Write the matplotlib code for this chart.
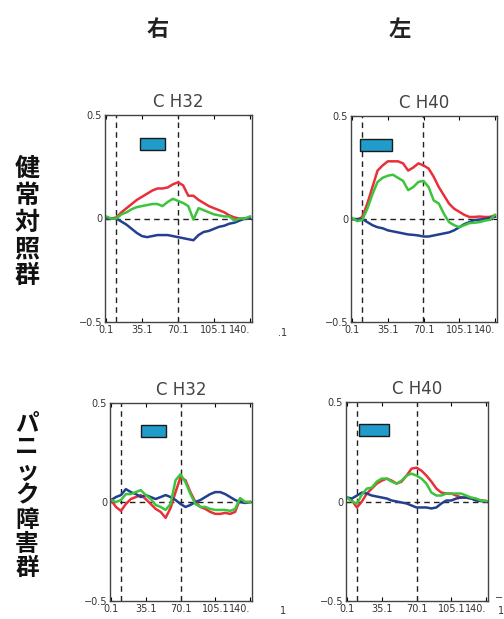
import matplotlib
matplotlib.use('Agg')
import matplotlib.pyplot as plt
from matplotlib.patches import Rectangle

plt.rcParams['font.family'] = ['DejaVu Sans', 'Noto Sans CJK JP']

# time axis (s), common to all four panels
t = [0, 5, 10, 15, 20, 25, 30, 35, 40, 45, 50, 55, 60, 65, 70,
     75, 80, 85, 90, 95, 100, 105, 110, 115, 120, 125, 130, 135, 140]

# healthy controls, CH32 (right)
hc32_red = [0, 0, 0.005, 0.03, 0.05, 0.07, 0.09, 0.105, 0.12, 0.135, 0.145, 0.145, 0.15, 0.165, 0.175,
            0.16, 0.11, 0.11, 0.09, 0.075, 0.06, 0.05, 0.04, 0.03, 0.015, 0.005, 0, 0, 0]
hc32_green = [0.01, 0, 0, 0.02, 0.03, 0.045, 0.055, 0.06, 0.065, 0.07, 0.07, 0.06, 0.08, 0.095, 0.085,
              0.075, 0.06, -0.005, 0.05, 0.04, 0.03, 0.02, 0.015, 0.01, 0.01, -0.01, 0, 0, 0.01]
hc32_blue = [0, 0, 0, -0.015, -0.03, -0.05, -0.07, -0.085, -0.09, -0.085, -0.08, -0.08, -0.08, -0.085, -0.09,
             -0.095, -0.1, -0.105, -0.08, -0.065, -0.06, -0.05, -0.04, -0.035, -0.025, -0.02, -0.01, 0, 0]

# healthy controls, CH40 (left)
hc40_red = [0, -0.005, 0.01, 0.075, 0.155, 0.235, 0.26, 0.28, 0.28, 0.28, 0.27, 0.235, 0.25, 0.27, 0.26,
            0.245, 0.205, 0.155, 0.115, 0.075, 0.05, 0.035, 0.02, 0.01, 0.01, 0.012, 0.01, 0.01, 0.018]
hc40_green = [0.005, -0.01, -0.005, 0.05, 0.12, 0.18, 0.2, 0.21, 0.215, 0.2, 0.185, 0.14, 0.155, 0.18, 0.185,
              0.155, 0.09, 0.075, 0.025, -0.015, -0.03, -0.04, -0.03, -0.02, -0.018, -0.015, -0.008, -0.004, 0.02]
hc40_blue = [0, 0, 0, -0.015, -0.03, -0.04, -0.045, -0.055, -0.06, -0.065, -0.07, -0.075, -0.077, -0.08, -0.085,
             -0.085, -0.08, -0.075, -0.07, -0.065, -0.055, -0.04, -0.025, -0.015, -0.005, -0.003, 0, 0.005, 0.01]

# panic disorder, CH32 (right)
pd32_red = [0.01, -0.025, -0.045, -0.01, 0.015, 0.025, 0.035, 0.015, -0.01, -0.035, -0.05, -0.08, -0.03, 0.05, 0.125,
            0.11, 0.05, 0, -0.025, -0.035, -0.05, -0.06, -0.06, -0.055, -0.06, -0.05, 0.015, 0, 0]
pd32_green = [0.01, 0, 0.01, 0.04, 0.04, 0.05, 0.06, 0.035, 0.015, -0.015, -0.025, -0.04, -0.01, 0.11, 0.14,
              0.1, 0.04, -0.01, -0.025, -0.025, -0.035, -0.04, -0.04, -0.04, -0.045, -0.035, 0.02, 0, 0]
pd32_blue = [0.01, 0.025, 0.035, 0.065, 0.05, 0.04, 0.025, 0.035, 0.025, 0.015, 0.025, 0.035, 0.025, 0.01, -0.01,
             -0.025, -0.015, 0, 0.01, 0.025, 0.04, 0.05, 0.05, 0.04, 0.025, 0.01, 0, -0.005, 0]

# panic disorder, CH40 (left)
pd40_red = [0.02, 0.005, -0.03, 0, 0.04, 0.065, 0.09, 0.105, 0.115, 0.105, 0.09, 0.1, 0.13, 0.165, 0.17,
            0.155, 0.13, 0.1, 0.065, 0.045, 0.04, 0.04, 0.03, 0.02, 0.02, 0.015, 0.01, 0.005, 0.002]
pd40_green = [0.02, 0, -0.01, 0.035, 0.065, 0.07, 0.1, 0.115, 0.115, 0.1, 0.09, 0.105, 0.13, 0.14, 0.13,
              0.115, 0.09, 0.045, 0.03, 0.03, 0.04, 0.04, 0.04, 0.04, 0.03, 0.02, 0.015, 0.005, 0.002]
pd40_blue = [0.02, 0.015, 0.03, 0.045, 0.04, 0.03, 0.025, 0.02, 0.015, 0.005, 0, -0.005, -0.01, -0.02, -0.03,
             -0.03, -0.03, -0.035, -0.03, -0.01, 0.005, 0.005, 0.015, 0.02, 0.02, 0.015, 0.005, 0.002, 0.002]

xticks = [0.1, 35.1, 70.1, 105.1, 140.1]
xticklabels = ['0.1', '35.1', '70.1', '105.1', '140.']
task_on, task_off = 10, 70

W, H = 504, 619
fig = plt.figure(figsize=(W / 100, H / 100), dpi=100)
fig.patch.set_facecolor('white')

# (left, right, top, bottom) in pixels, title, data, bar x-range
panels = [
    ((105, 252, 115, 322), 'C H32', (hc32_red, hc32_green, hc32_blue), (33, 57)),
    ((351, 497, 116, 322), 'C H40', (hc40_red, hc40_green, hc40_blue), (8, 39)),
    ((110, 252, 403, 601), 'C H32', (pd32_red, pd32_green, pd32_blue), (30, 55)),
    ((346, 488, 402, 601), 'C H40', (pd40_red, pd40_green, pd40_blue), (12, 42)),
]

for (l, r, tp, b), title, (red, green, blue), (bx0, bx1) in panels:
    ax = fig.add_axes([l / W, 1 - b / H, (r - l) / W, (b - tp) / H])
    ax.set_xlim(-1, 142)
    ax.set_ylim(-0.5, 0.5)
    ax.axhline(0, color='#222222', ls=(0, (4, 3)), lw=1)
    ax.axvline(task_on, color='#222222', ls=(0, (4, 3)), lw=1)
    ax.axvline(task_off, color='#222222', ls=(0, (4, 3)), lw=1)
    ax.plot(t, red, color='#e8303a', lw=1.8)
    ax.plot(t, blue, color='#243f8f', lw=1.8)
    ax.plot(t, green, color='#3cc43c', lw=1.8)
    ax.add_patch(Rectangle((bx0, 0.33), bx1 - bx0, 0.06, facecolor='#1f9cc9',
                           edgecolor='#1a1a1a', lw=1, zorder=5))
    ax.set_xticks(xticks)
    ax.set_xticklabels(xticklabels, fontsize=7, color='#333333')
    ax.get_xticklabels()[-1].set_ha('right')
    ax.set_yticks([-0.5, 0, 0.5])
    ax.set_yticklabels(['\u22120.5', '0', '0.5'], fontsize=7, color='#333333')
    ax.tick_params(direction='in', length=3, top=True, right=True, pad=2, width=0.8)
    for sp in ax.spines.values():
        sp.set_color('#444444')
        sp.set_linewidth(1)
    ax.set_title(title, fontsize=12, color='#444444', pad=6)

# column headers
fig.text(158 / W, 1 - 30 / H, '右', family='Noto Sans CJK JP', fontweight='bold',
         fontsize=16, ha='center', va='center', color='#222222')
fig.text(400 / W, 1 - 30 / H, '左', family='Noto Sans CJK JP', fontweight='bold',
         fontsize=16, ha='center', va='center', color='#222222')

# vertical row labels
row1 = '健常対照群'
for i, ch in enumerate(row1):
    fig.text(27 / W, 1 - (169 + i * 26.8) / H, ch, family='Noto Sans CJK JP',
             fontweight='bold', fontsize=18, ha='center', va='center', color='#111111')
row2 = 'パニック障害群'
for i, ch in enumerate(row2):
    fig.text(27 / W, 1 - (423 + i * 24.2) / H, ch, family='Noto Sans CJK JP',
             fontweight='bold', fontsize=17, ha='center', va='center', color='#111111')

# fragments of neighbouring panels cut off by the crop
fig.text(283 / W, 1 - 333 / H, '.1', fontsize=7, ha='center', va='center', color='#333333')
fig.text(283 / W, 1 - 611 / H, '1', fontsize=7, ha='center', va='center', color='#333333')
fig.text(501 / W, 1 - 611 / H, '1', fontsize=7, ha='center', va='center', color='#333333')
fig.text(499 / W, 1 - 598 / H, '\u2212', fontsize=7, ha='center', va='center', color='#333333')

fig.savefig('out.png', dpi=100)
